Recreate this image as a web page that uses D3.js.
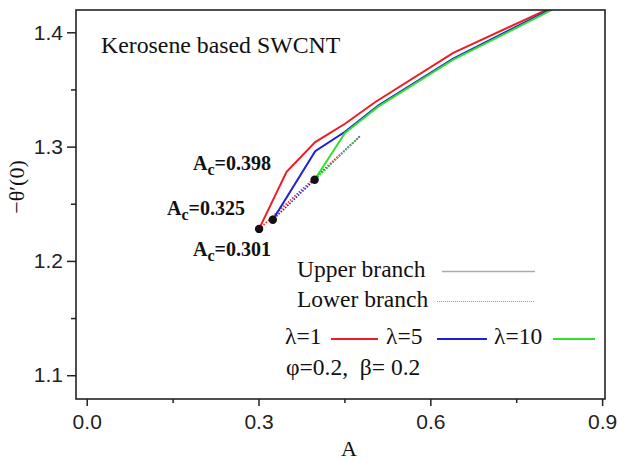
<!DOCTYPE html>
<html>
<head>
<meta charset="utf-8">
<script src="https://d3js.org/d3.v7.min.js"></script>
<style>
body { margin: 0; background: #fff; }
svg { display: block; }
.ax text { font-family: "Liberation Sans", Arial, sans-serif; font-size: 21px; fill: #222; }
.ax path { display: none; }
.ax line { stroke: #222; stroke-width: 1.5; }
.serif { font-family: "Liberation Serif", "Times New Roman", serif; fill: #111; }
</style>
</head>
<body>
<script>
var width = 618;
var height = 461;

// upper branch, lambda = 1, 5, 10
const upperA_1 = [0.301, 0.349, 0.399, 0.451, 0.504, 0.640, 0.800, 0.850];
const upperT_1 = [1.228, 1.278, 1.304, 1.320, 1.339, 1.382, 1.419, 1.431];
const upperA_5 = [0.325, 0.399, 0.451, 0.509, 0.640, 0.806, 0.850];
const upperT_5 = [1.236, 1.296, 1.313, 1.336, 1.377, 1.419, 1.430];
const upperA_10 = [0.398, 0.451, 0.509, 0.640, 0.806, 0.850];
const upperT_10 = [1.271, 1.312, 1.335, 1.376, 1.418, 1.429];

// lower branch
const lowerA_1 = [0.301, 0.477];
const lowerT_1 = [1.228, 1.309];
const lowerA_5 = [0.325, 0.477];
const lowerT_5 = [1.236, 1.309];
const lowerA_10 = [0.398, 0.477];
const lowerT_10 = [1.271, 1.309];

// critical points
const critA = [0.301, 0.325, 0.398];
const critT = [1.228, 1.236, 1.271];
const critLabels = ["0.301", "0.325", "0.398"];

const lambdas = ["λ=1", "λ=5", "λ=10"];
const colors = ["#ee1c24", "#1f1fd8", "#2fe02f"];

const xTicks = [0.0, 0.3, 0.6, 0.9];
const xMinor = [0.15, 0.45, 0.75];
const yTicks = [1.1, 1.2, 1.3, 1.4];
const yMinor = [1.15, 1.25, 1.35];

var x = d3.scaleLinear().domain([-0.0187, 0.905]).range([76, 605]);
var y = d3.scaleLinear().domain([1.0792, 1.4195]).range([399, 10]);

var svg = d3.select("body").append("svg")
    .attr("width", width)
    .attr("height", height);

svg.append("clipPath").attr("id", "clip")
  .append("rect")
    .attr("x", 76).attr("y", 10)
    .attr("width", 529).attr("height", 389);

// axes (ticks outward)
svg.append("g").attr("class", "ax")
    .attr("transform", "translate(0,399)")
    .call(d3.axisBottom(x).tickValues(xTicks).tickSize(7).tickPadding(8).tickFormat(d3.format(".1f")));
svg.append("g").attr("class", "ax")
    .attr("transform", "translate(0,399)")
    .call(d3.axisBottom(x).tickValues(xMinor).tickSize(4).tickFormat(""));
svg.append("g").attr("class", "ax")
    .attr("transform", "translate(76,0)")
    .call(d3.axisLeft(y).tickValues(yTicks).tickSize(9).tickPadding(4).tickFormat(d3.format(".1f")));
svg.append("g").attr("class", "ax")
    .attr("transform", "translate(76,0)")
    .call(d3.axisLeft(y).tickValues(yMinor).tickSize(5).tickFormat(""));

var line = d3.line().x(d => x(d[0])).y(d => y(d[1]));

var plot = svg.append("g").attr("clip-path", "url(#clip)");

var lowers = [d3.zip(lowerA_1, lowerT_1), d3.zip(lowerA_5, lowerT_5), d3.zip(lowerA_10, lowerT_10)];
var uppers = [d3.zip(upperA_1, upperT_1), d3.zip(upperA_5, upperT_5), d3.zip(upperA_10, upperT_10)];

lowers.forEach(function(d, i) {
    plot.append("path")
        .attr("d", line(d))
        .attr("fill", "none")
        .attr("stroke", colors[i])
        .attr("stroke-width", 1.6)
        .attr("stroke-dasharray", "1.5,1.5")
        .attr("stroke-dashoffset", i);
});

uppers.forEach(function(d, i) {
    plot.append("path")
        .attr("d", line(d))
        .attr("fill", "none")
        .attr("stroke", colors[i])
        .attr("stroke-width", 2);
});

plot.selectAll("circle")
    .data(d3.zip(critA, critT))
    .enter().append("circle")
    .attr("cx", d => x(d[0]))
    .attr("cy", d => y(d[1]))
    .attr("r", 4.2)
    .attr("fill", "#111");

// frame
svg.append("rect")
    .attr("x", 76).attr("y", 10)
    .attr("width", 529).attr("height", 389)
    .attr("fill", "none")
    .attr("stroke", "#222")
    .attr("stroke-width", 1.6);

// labels for critical points
var labPos = [[193, 256], [167, 215], [193, 170]];
critLabels.forEach(function(t, i) {
    var tx = svg.append("text").attr("class", "serif")
        .attr("x", labPos[i][0]).attr("y", labPos[i][1])
        .style("font-size", "20px").style("font-weight", "bold");
    tx.append("tspan").text("A");
    tx.append("tspan").attr("dy", 5).style("font-size", "16px").text("c");
    tx.append("tspan").attr("dy", -5).text("=" + t);
});

svg.append("text").attr("class", "serif")
    .attr("x", 101).attr("y", 53)
    .style("font-size", "23.8px")
    .text("Kerosene based SWCNT");

// axis titles
svg.append("text").attr("class", "serif")
    .attr("x", 349).attr("y", 456)
    .attr("text-anchor", "middle")
    .style("font-size", "22px")
    .text("A");

svg.append("text").attr("class", "serif")
    .attr("transform", "translate(24,187) rotate(-90)")
    .attr("text-anchor", "middle")
    .style("font-size", "22px")
    .text("−θ′(0)");

// legend
svg.append("text").attr("class", "serif")
    .attr("x", 297).attr("y", 277).style("font-size", "23.5px")
    .text("Upper branch");
svg.append("line")
    .attr("x1", 442).attr("x2", 535).attr("y1", 271.5).attr("y2", 271.5)
    .attr("stroke", "#aaa").attr("stroke-width", 1.6);
svg.append("text").attr("class", "serif")
    .attr("x", 297).attr("y", 307).style("font-size", "23.5px")
    .text("Lower branch");
svg.append("line")
    .attr("x1", 437).attr("x2", 535).attr("y1", 301.5).attr("y2", 301.5)
    .attr("stroke", "#999").attr("stroke-width", 1.2)
    .attr("stroke-dasharray", "1,1");

var legX = [285, 386, 494];
var legLine = [[331, 378], [437, 487], [553, 595]];
lambdas.forEach(function(t, i) {
    svg.append("text").attr("class", "serif")
        .attr("x", legX[i]).attr("y", 344).style("font-size", "23.5px")
        .text(t);
    svg.append("line")
        .attr("x1", legLine[i][0]).attr("x2", legLine[i][1])
        .attr("y1", 339).attr("y2", 339)
        .attr("stroke", colors[i]).attr("stroke-width", 2);
});

svg.append("text").attr("class", "serif")
    .attr("x", 286).attr("y", 375).style("font-size", "23.5px")
    .text("φ=0.2,\u00a0\u00a0β=\u00a00.2");
</script>
</body>
</html>
